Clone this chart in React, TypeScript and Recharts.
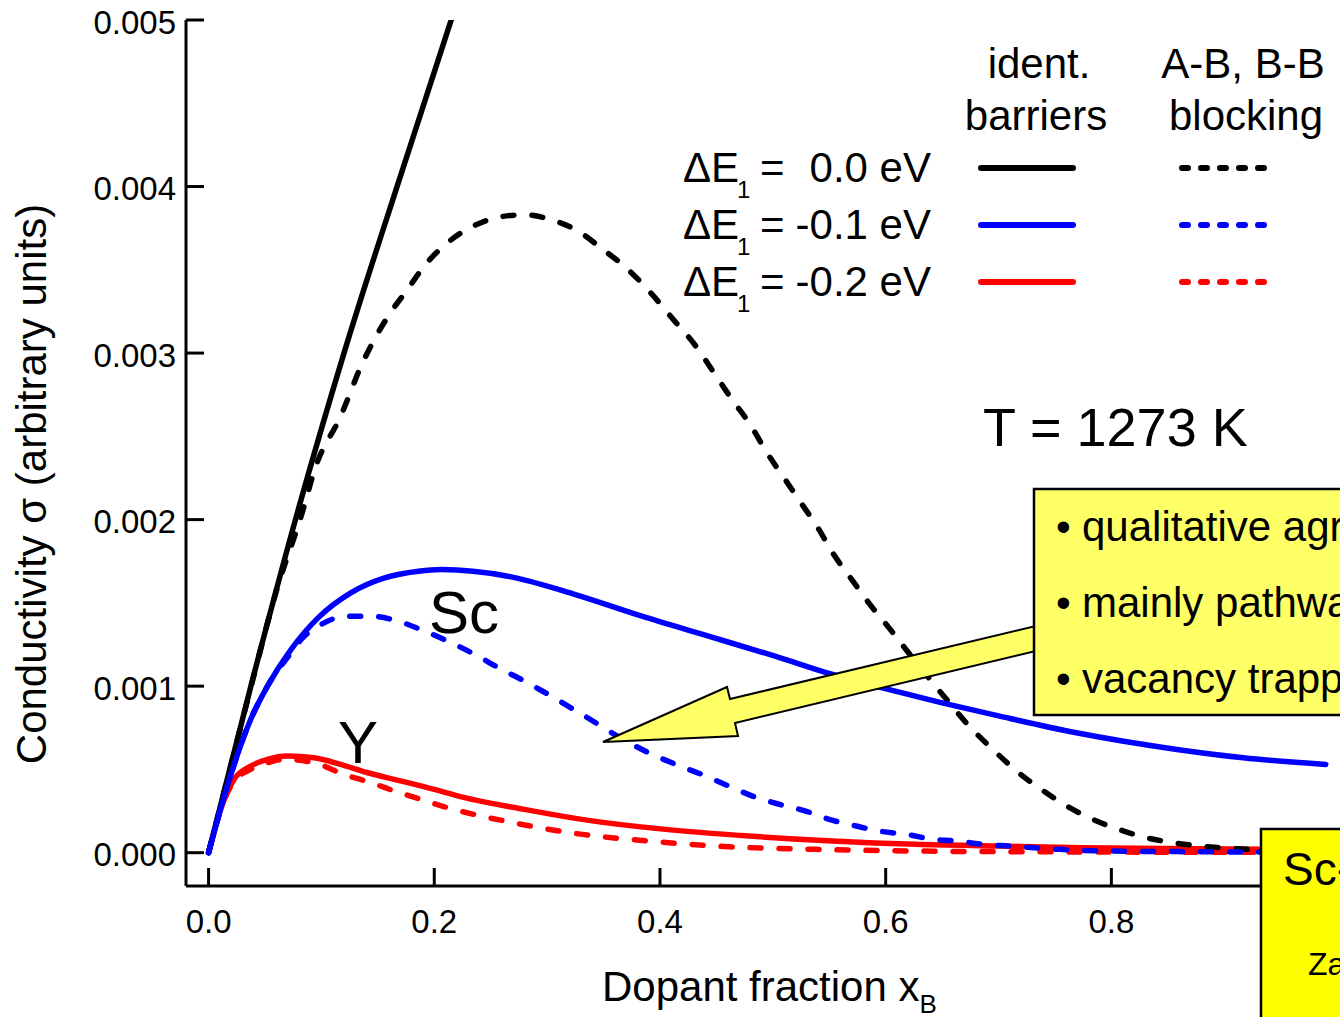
import { Line, LineChart, XAxis, YAxis } from "recharts";

const font = "'Liberation Sans', Arial, Helvetica, sans-serif";

// dopant fraction x_B vs conductivity
const xIdent00 = [0, 0.0375, 0.077, 0.12, 0.167, 0.215];
const yIdent00 = [0, 0.001, 0.002, 0.003, 0.004, 0.005];

const xBlock00 = [
  0, 0.02, 0.04, 0.06, 0.082, 0.095, 0.117, 0.135, 0.159, 0.176, 0.192, 0.213, 0.237, 0.26, 0.28,
  0.304, 0.328, 0.348, 0.372, 0.392, 0.412, 0.432, 0.448, 0.464, 0.48, 0.494, 0.51, 0.525, 0.54,
  0.554, 0.571, 0.585, 0.603, 0.618, 0.637, 0.654, 0.674, 0.695, 0.716, 0.74, 0.763, 0.787, 0.811,
  0.831, 0.855, 0.879, 0.92, 0.96, 0.99,
];
const yBlock00 = [
  0, 0.00053, 0.00106, 0.00157, 0.00202, 0.00232, 0.00262, 0.00292, 0.00322, 0.00338, 0.00353,
  0.00367, 0.00377, 0.00382, 0.00383, 0.0038, 0.00373, 0.00363, 0.0035, 0.00336, 0.0032, 0.00304,
  0.00288, 0.00272, 0.00257, 0.00241, 0.00225, 0.0021, 0.00195, 0.00179, 0.00163, 0.0015, 0.00135,
  0.00122, 0.00106, 0.00092, 0.00076, 0.00062, 0.00049, 0.00037, 0.00027, 0.00019, 0.00013,
  0.00009, 0.00006, 0.00004, 0.00002, 0.00001, 0.000005,
];

const xIdent01 = [
  0, 0.0166, 0.0373, 0.0522, 0.073, 0.097, 0.126, 0.156, 0.186, 0.206, 0.265, 0.325, 0.384, 0.443,
  0.502, 0.553, 0.597, 0.65, 0.701, 0.769, 0.858, 0.917, 0.99,
];
const yIdent01 = [
  0, 0.0004, 0.0008, 0.001, 0.00122, 0.00141, 0.00156, 0.00165, 0.00169, 0.0017, 0.00166, 0.00155,
  0.00142, 0.0013, 0.00118, 0.00107, 0.00099, 0.0009, 0.00082, 0.00072, 0.00062, 0.00057, 0.00053,
];

const xBlock01 = [
  0, 0.0166, 0.0373, 0.0522, 0.073, 0.082, 0.0996, 0.123, 0.144, 0.168, 0.188, 0.212, 0.236, 0.257,
  0.28, 0.331, 0.37, 0.39, 0.414, 0.437, 0.461, 0.482, 0.506, 0.529, 0.55, 0.574, 0.594, 0.618,
  0.642, 0.663, 0.686, 0.71, 0.754, 0.8, 0.9, 0.99,
];
const yBlock01 = [
  0, 0.0004, 0.0008, 0.001, 0.0012, 0.00128, 0.00137, 0.00142, 0.00142, 0.00139, 0.00134, 0.00127,
  0.00119, 0.00111, 0.00103, 0.00083, 0.00067, 0.0006, 0.00053, 0.00047, 0.0004, 0.00034, 0.00029,
  0.00025, 0.0002, 0.00016, 0.00013, 0.00011, 0.00008, 0.00007, 0.00005, 0.00004, 0.00002,
  0.00001, 0.000005, 0.000002,
];

const xIdent02 = [
  0, 0.0107, 0.0225, 0.0373, 0.0522, 0.07, 0.0936, 0.117, 0.141, 0.171, 0.2, 0.224, 0.28, 0.331,
  0.405, 0.479, 0.553, 0.627, 0.701, 0.775, 0.85, 0.932, 0.99,
];
const yIdent02 = [
  0, 0.00026, 0.00044, 0.00052, 0.00056, 0.00058, 0.00057, 0.00053, 0.00048, 0.00043, 0.00038,
  0.000335, 0.00026, 0.0002, 0.00014, 0.0001, 0.00007, 0.00005, 0.00004, 0.00003, 0.000025,
  0.00002, 0.00002,
];

const xBlock02 = [
  0, 0.0107, 0.0225, 0.0373, 0.0522, 0.067, 0.0936, 0.12, 0.144, 0.165, 0.188, 0.212, 0.27, 0.331,
  0.39, 0.449, 0.538, 0.627, 0.75, 0.85, 0.99,
];
const yBlock02 = [
  0, 0.00026, 0.00043, 0.0005, 0.00054, 0.00056, 0.00054, 0.00047, 0.00042, 0.00037, 0.00032,
  0.00027, 0.00018, 0.00011, 0.00007, 0.00004, 0.00002, 0.00001, 0.000005, 0.000003, 0.000002,
];

const xMajor = [0, 0.2, 0.4, 0.6, 0.8, 1.0];
const xMinor = [0.1, 0.3, 0.5, 0.7, 0.9];
const yMajor = [0, 0.001, 0.002, 0.003, 0.004, 0.005];
const yMinor = [0.0005, 0.0015, 0.0025, 0.0035, 0.0045];

const legendRows = ["0.0 eV", "-0.1 eV", "-0.2 eV"];
const notes = ["qualitative agreement", "mainly pathway blocking", "vacancy trapping"];

const pts = (xs: number[], ys: number[]) => xs.map((x, i) => ({ x, y: ys[i] }));

// drawing order: red, black, blue (blue dashes sit on top)
const series = [
  { id: "r-ident", data: pts(xIdent02, yIdent02), color: "#ff0000", dashed: false },
  { id: "r-block", data: pts(xBlock02, yBlock02), color: "#ff0000", dashed: true },
  { id: "k-ident", data: pts(xIdent00, yIdent00), color: "#000000", dashed: false },
  { id: "k-block", data: pts(xBlock00, yBlock00), color: "#000000", dashed: true },
  { id: "b-ident", data: pts(xIdent01, yIdent01), color: "#0000ff", dashed: false },
  { id: "b-block", data: pts(xBlock01, yBlock01), color: "#0000ff", dashed: true },
];
const legendColors = ["#000000", "#0000ff", "#ff0000"];

const xDomain: [number, number] = [-0.02, 1.015];
const yDomain: [number, number] = [-0.0002, 0.005];
const frame = { stroke: "#000", strokeWidth: 3 };
const blank = () => "";

export default function App() {
  return (
    <div
      style={{
        position: "fixed",
        left: 0,
        top: 0,
        width: 1340,
        height: 1017,
        overflow: "hidden",
        background: "#fff",
        fontFamily: font,
      }}
    >
      <LineChart width={1400} height={1017} margin={{ top: 20, right: 46, bottom: 0, left: 0 }}>
        {/* zero-size minor axes first so they sit on the frame */}
        <XAxis
          xAxisId="xMinor"
          type="number"
          dataKey="x"
          domain={xDomain}
          allowDataOverflow
          ticks={xMinor}
          interval={0}
          height={0}
          tickSize={-9}
          tickFormatter={blank}
          axisLine={false}
          tickLine={frame}
        />
        <XAxis
          xAxisId="x"
          type="number"
          dataKey="x"
          domain={xDomain}
          allowDataOverflow
          ticks={xMajor}
          interval={0}
          height={131}
          tickSize={-18}
          tickMargin={42}
          tickFormatter={(v: number) => (v < 0.95 ? v.toFixed(1) : "")}
          tick={{ fontSize: 33, fill: "#000", fontFamily: font }}
          axisLine={frame}
          tickLine={frame}
        />
        <XAxis
          xAxisId="xTopMinor"
          orientation="top"
          type="number"
          dataKey="x"
          domain={xDomain}
          allowDataOverflow
          ticks={xMinor}
          interval={0}
          height={0}
          tickSize={-10}
          tickFormatter={blank}
          axisLine={false}
          tickLine={frame}
        />
        <XAxis
          xAxisId="xTop"
          orientation="top"
          type="number"
          dataKey="x"
          domain={xDomain}
          allowDataOverflow
          ticks={xMajor}
          interval={0}
          height={0}
          tickSize={-18}
          tickFormatter={blank}
          axisLine={frame}
          tickLine={frame}
        />
        <YAxis
          yAxisId="yMinor"
          type="number"
          domain={yDomain}
          allowDataOverflow
          ticks={yMinor}
          interval={0}
          width={0}
          tickSize={-10}
          tickFormatter={blank}
          axisLine={false}
          tickLine={frame}
        />
        <YAxis
          yAxisId="y"
          type="number"
          domain={yDomain}
          allowDataOverflow
          ticks={yMajor}
          interval={0}
          width={186}
          tickSize={-18}
          tickMargin={28}
          tickFormatter={(v: number) => v.toFixed(3)}
          tick={{ fontSize: 33, fill: "#000", fontFamily: font, dy: 2 }}
          axisLine={frame}
          tickLine={frame}
        />
        <YAxis
          yAxisId="yRightMinor"
          orientation="right"
          type="number"
          domain={yDomain}
          allowDataOverflow
          ticks={yMinor}
          interval={0}
          width={0}
          tickSize={-10}
          tickFormatter={blank}
          axisLine={false}
          tickLine={frame}
        />
        <YAxis
          yAxisId="yRight"
          orientation="right"
          type="number"
          domain={yDomain}
          allowDataOverflow
          ticks={yMajor}
          interval={0}
          width={0}
          tickSize={-18}
          tickFormatter={blank}
          axisLine={frame}
          tickLine={frame}
        />
        {series.map((s) => (
          <Line
            key={s.id}
            xAxisId="x"
            yAxisId="y"
            data={s.data}
            dataKey="y"
            type="monotone"
            stroke={s.color}
            strokeWidth={5.5}
            strokeDasharray={s.dashed ? "11 18" : undefined}
            strokeLinecap="round"
            dot={false}
            activeDot={false}
            isAnimationActive={false}
          />
        ))}
      </LineChart>

      <svg
        width={1340}
        height={1017}
        style={{ position: "absolute", left: 0, top: 0 }}
        fontFamily={font}
      >
        {/* axis titles */}
        <text transform="rotate(-90)" x={-484} y={46} textAnchor="middle" fontSize={42}>
          Conductivity σ (arbitrary units)
        </text>
        <text x={602} y={1001} fontSize={42}>
          Dopant fraction x
          <tspan fontSize={26} dy={12}>
            B
          </tspan>
        </text>

        {/* legend */}
        <text x={1039} y={78} textAnchor="middle" fontSize={42}>ident.</text>
        <text x={1036} y={130} textAnchor="middle" fontSize={42}>barriers</text>
        <text x={1243} y={78} textAnchor="middle" fontSize={42}>A-B, B-B</text>
        <text x={1246} y={130} textAnchor="middle" fontSize={42}>blocking</text>
        {legendRows.map((label, i) => {
          const y = 182 + i * 57;
          const c = legendColors[i];
          return (
            <g key={label}>
              <text x={683} y={y} fontSize={42}>
                ΔE
              </text>
              <text x={737} y={y + 16} fontSize={24}>
                1
              </text>
              <text x={760} y={y} fontSize={42}>
                =
              </text>
              <text x={931} y={y} textAnchor="end" fontSize={42}>
                {label}
              </text>
              <line x1={981} x2={1073} y1={y - 14} y2={y - 14} stroke={c} strokeWidth={6} strokeLinecap="round" />
              <line
                x1={1182}
                x2={1266}
                y1={y - 14}
                y2={y - 14}
                stroke={c}
                strokeWidth={6}
                strokeLinecap="round"
                strokeDasharray="6 13"
              />
            </g>
          );
        })}

        <text x={983} y={446} fontSize={54}>T = 1273 K</text>
        <text x={429} y={633} fontSize={60}>Sc</text>
        <text x={338} y={763} fontSize={60}>Y</text>

        {/* arrow and note box */}
        <polygon
          points="603,742 727,687 730,699 1040,625 1040,650 735,723 738,736"
          fill="#ffff66"
          stroke="#000"
          strokeWidth={2}
          strokeLinejoin="miter"
        />
        <rect x={1034} y={489} width={400} height={226} fill="#ffff66" stroke="#000" strokeWidth={2.5} />
        {notes.map((n, i) => (
          <g key={n}>
            <text x={1056} y={541 + i * 76} fontSize={42}>•</text>
            <text x={1082} y={541 + i * 76} fontSize={42}>
              {n}
            </text>
          </g>
        ))}

        <rect x={1261} y={829} width={200} height={260} fill="#ffff00" stroke="#000" strokeWidth={2.5} />
        <text x={1283} y={885} fontSize={46}>Sc-doped</text>
        <text x={1308} y={975} fontSize={32}>Zacate et al.</text>
      </svg>
    </div>
  );
}
